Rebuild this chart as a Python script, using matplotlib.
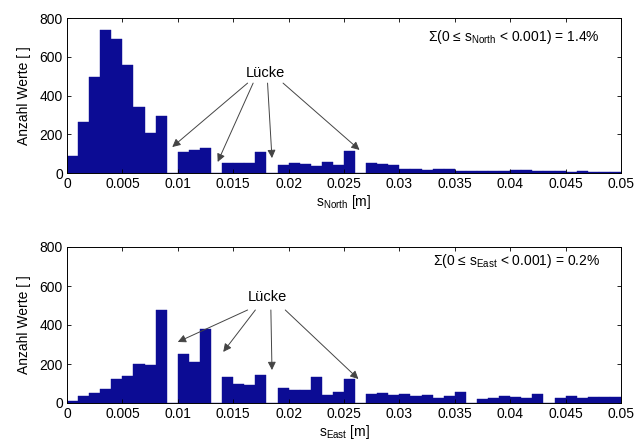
import matplotlib
matplotlib.use("Agg")
import matplotlib.pyplot as plt
import numpy as np

plt.rcParams['font.family'] = ['Liberation Sans', 'DejaVu Sans']
plt.rcParams['mathtext.fontset'] = 'custom'
plt.rcParams['mathtext.rm'] = 'Liberation Sans'
plt.rcParams['mathtext.it'] = 'Liberation Sans:italic'
plt.rcParams['mathtext.bf'] = 'Liberation Sans:bold'

bin_width = 0.001
bin_edges_left = np.arange(50) * bin_width

north_counts = [88, 263, 498, 737, 691, 556, 342, 207, 295, 0,
                107, 119, 130, 0, 54, 51, 51, 107, 0, 39,
                54, 47, 37, 56, 39, 114, 0, 54, 46, 39,
                22, 19, 17, 19, 19, 12, 8, 8, 10, 12,
                18, 14, 10, 10, 8, 6, 8, 6, 6, 4]
east_counts = [10, 34, 53, 71, 122, 137, 202, 197, 478, 0,
               253, 210, 380, 0, 132, 98, 92, 146, 0, 76,
               66, 66, 132, 42, 58, 122, 0, 47, 51, 42,
               44, 37, 41, 25, 37, 58, 0, 20, 25, 37,
               31, 24, 47, 0, 25, 34, 25, 31, 32, 32]

x_ticks = [0, 0.005, 0.01, 0.015, 0.02, 0.025, 0.03, 0.035, 0.04, 0.045, 0.05]
x_ticklabels = ['0', '0.005', '0.01', '0.015', '0.02', '0.025', '0.03', '0.035', '0.04', '0.045', '0.05']
y_ticks = [0, 200, 400, 600, 800]

north_text = r'Σ(0 ≤ s$_{\mathrm{North}}$ < 0.001) = 1.4%'
east_text = r'Σ(0 ≤ s$_{\mathrm{East}}$ < 0.001) = 0.2%'

# arrow annotation anchors (data coords)
north_label_pos = (0.0179, 515)
north_arrows = [((0.0163, 464), (0.0095, 134)), ((0.0168, 464), (0.0136, 57)),
                ((0.0181, 464), (0.0185, 77)), ((0.0195, 464), (0.0264, 119))]
east_label_pos = (0.0181, 544)
east_arrows = [((0.0163, 477), (0.0100, 313)), ((0.0170, 477), (0.0141, 262)),
               ((0.0184, 477), (0.0185, 169)), ((0.0197, 477), (0.0263, 123))]

fig = plt.figure(figsize=(6.43, 4.47), dpi=100)
W, H = 643, 447
ax1 = fig.add_axes([67 / W, 1 - 173 / H, (621 - 67) / W, (173 - 18) / H])
ax2 = fig.add_axes([67 / W, 1 - 403 / H, (621 - 67) / W, (403 - 247) / H])

bar_color = '#0c0c94'
fs = 10

def style(ax, counts, text, label_pos, arrows, xlabel, text_y):
    ax.bar(bin_edges_left, counts, width=bin_width, align='edge', color=bar_color,
           edgecolor=bar_color, linewidth=0.3)
    ax.set_xlim(0, 0.05)
    ax.set_ylim(0, 800)
    ax.set_xticks(x_ticks)
    ax.set_xticklabels(x_ticklabels, fontsize=fs)
    ax.set_yticks(y_ticks)
    ax.set_yticklabels([str(v) for v in y_ticks], fontsize=fs)
    ax.tick_params(direction='in', top=True, right=True, length=3, width=0.6, pad=3)
    for s in ax.spines.values():
        s.set_linewidth(0.7)
    ax.set_ylabel('Anzahl Werte [ ]', fontsize=fs, labelpad=6)
    ax.set_xlabel(xlabel, fontsize=fs, labelpad=1)
    ax.text(0.0481, text_y, text, fontsize=fs, ha='right', va='center')
    ax.text(label_pos[0], label_pos[1], 'Lücke', fontsize=fs + 0.5, ha='center', va='center')
    for (sx, sy), (ex, ey) in arrows:
        ax.annotate('', xy=(ex, ey), xytext=(sx, sy),
                    arrowprops=dict(arrowstyle='-|>', color='#444444', lw=0.7,
                                    mutation_scale=12, shrinkA=0, shrinkB=0))

style(ax1, north_counts, north_text, north_label_pos, north_arrows,
      r's$_{\mathrm{North}}$ [m]', 701)
style(ax2, east_counts, east_text, east_label_pos, east_arrows,
      r's$_{\mathrm{East}}$ [m]', 728)

fig.savefig('out.png', dpi=100)
